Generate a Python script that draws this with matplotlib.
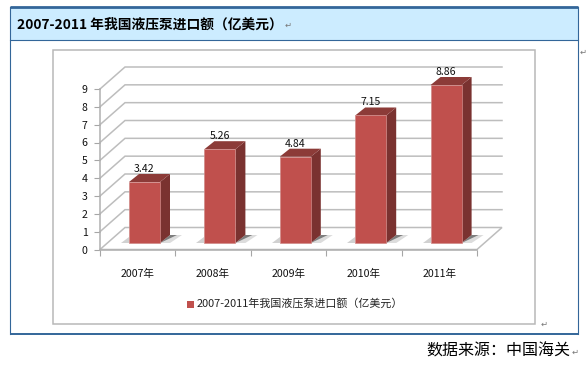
import matplotlib
matplotlib.use("Agg")
import matplotlib.pyplot as plt
from matplotlib.patches import Polygon, Rectangle

plt.rcParams['font.family'] = ['Noto Sans CJK SC', 'DejaVu Sans']

years = ['2007年', '2008年', '2009年', '2010年', '2011年']
values = [3.42, 5.26, 4.84, 7.15, 8.86]
value_labels = ['3.42', '5.26', '4.84', '7.15', '8.86']
y_ticks = [0, 1, 2, 3, 4, 5, 6, 7, 8, 9]
title = '2007-2011 年我国液压泵进口额（亿美元）'
series_name = '2007-2011年我国液压泵进口额（亿美元）'
source = '数据来源：中国海关'

W, H = 588, 365
fig = plt.figure(figsize=(W / 100, H / 100), dpi=100, facecolor='white')

# page furniture in pixel coordinates
bg = fig.add_axes([0, 0, 1, 1], zorder=0)
bg.set_xlim(0, W); bg.set_ylim(H, 0); bg.axis('off')
BLUE = '#336699'
bg.add_patch(Rectangle((10, 7), 568, 33, fc='#CCECFF', ec='none'))
bg.plot([10, 578], [7, 7], color=BLUE, lw=2.0, solid_capstyle='butt')
bg.plot([10, 578], [40, 40], color=BLUE, lw=0.8)
bg.plot([10, 578], [334, 334], color=BLUE, lw=1.4, solid_capstyle='butt')
bg.plot([10, 10], [7, 334], color=BLUE, lw=0.8)
bg.plot([578, 578], [7, 334], color=BLUE, lw=0.8)
bg.add_patch(Rectangle((53, 50), 482, 274, fc='white', ec='#B8B8B8', lw=1.1))
bg.text(17, 25, title, fontsize=9.9, fontweight='bold', va='center', ha='left', color='black')
bg.text(570, 351, source, fontsize=11.5, va='center', ha='right', color='black')
for x, y in [(288, 25), (583, 52), (544, 324), (575, 352)]:
    bg.text(x, y, '↵', fontsize=6, va='center', ha='center', color='#777777', family='DejaVu Sans')

# legend
bg.add_patch(Rectangle((187, 301), 6.5, 6.5, fc='#C0504D', ec='none'))
bg.text(197, 303.5, series_name, fontsize=7.9, va='center', ha='left', color='#222222')

# chart axes: x in categories, y in values
ax = fig.add_axes([100 / W, 1 - 249.5 / H, 377 / W, 160.5 / H], zorder=1)
ax.patch.set_alpha(0)
ax.set_xlim(-0.5, 4.5)
ax.set_ylim(0, 9)
PX = 5 / 377          # one pixel, in category units
PY = 9 / 160.5        # one pixel, in value units
WALL_X, WALL_Y = 25 * PX, 22 * PY
GRID = '#BDBDBD'

for s in ['top', 'right']:
    ax.spines[s].set_visible(False)
for s in ['left', 'bottom']:
    ax.spines[s].set_color('#B0B0B0')
    ax.spines[s].set_linewidth(1.1)

ax.set_yticks(y_ticks)
ax.set_yticklabels([str(v) for v in y_ticks], fontsize=7.6, color='#111111')
ax.tick_params(axis='y', length=4, width=0.8, color='#A6A6A6', pad=5)
ax.set_xticks([i - 0.5 for i in range(len(years) + 1)])
ax.set_xticklabels([])
ax.tick_params(axis='x', which='major', length=4, width=0.8, color='#A6A6A6', direction='out')
ax.set_xticks(range(len(years)), minor=True)
ax.set_xticklabels(years, minor=True, fontsize=7.6, color='#111111')
ax.tick_params(axis='x', which='minor', length=0, pad=14)

# wall grid lines
for v in y_ticks[1:]:
    ax.plot([-0.5, -0.5 + WALL_X, 4.5 + WALL_X], [v, v + WALL_Y, v + WALL_Y],
            color=GRID, lw=1.1, clip_on=False, zorder=1, solid_joinstyle='miter')
# floor
ax.add_patch(Polygon([(-0.5, 0), (-0.5 + WALL_X, WALL_Y), (4.5 + WALL_X, WALL_Y), (4.5, 0)],
                     closed=True, fc='white', ec=GRID, lw=1.1, clip_on=False, zorder=1.5))

# 3-D bars
HALF = 15.5 * PX
OX, OY = 6.8 * PX, 6.5 * PY
DX, DY = 10 * PX, 8 * PY
for i, (v, lab) in enumerate(zip(values, value_labels)):
    l, r = i + OX - HALF, i + OX + HALF
    b, t = OY, OY + v
    # floor shadows
    ax.add_patch(Polygon([(r, b), (r + 1.0 * DX, b + DY), (r + 2.2 * DX, b + DY), (r + 1.0 * DX, b)], closed=True,
                         fc='#A8A8A8', alpha=0.4, ec='none', zorder=2, clip_on=False))
    ax.add_patch(Polygon([(r, b), (r + DX, b + DY), (r + 1.7 * DX, b + DY)], closed=True,
                         fc='#555555', alpha=0.7, ec='none', zorder=2, clip_on=False))
    ax.add_patch(Polygon([(l - 0.8 * DX, b), (l, b), (l, b + 0.7 * DY)], closed=True,
                         fc='#999999', alpha=0.45, ec='none', zorder=2, clip_on=False))
    # side
    ax.add_patch(Polygon([(r, b), (r + DX, b + DY), (r + DX, t + DY), (r, t)], closed=True,
                         fc='#7A3230', ec='none', zorder=3, clip_on=False))
    # top
    ax.add_patch(Polygon([(l, t), (l + DX, t + DY), (r + DX, t + DY), (r, t)], closed=True,
                         fc='#8C3B38', ec='none', zorder=3, clip_on=False))
    # front
    ax.add_patch(Polygon([(l, b), (l, t), (r, t), (r, b)], closed=True,
                         fc='#C0504D', ec='#D08A88', lw=0.5, zorder=4, clip_on=False))
    ax.text(i + OX, t + 13 * PY, lab, fontsize=7.6, ha='center', va='center',
            color='#111111', zorder=5, clip_on=False)

fig.savefig('out.png', dpi=100, facecolor='white')
